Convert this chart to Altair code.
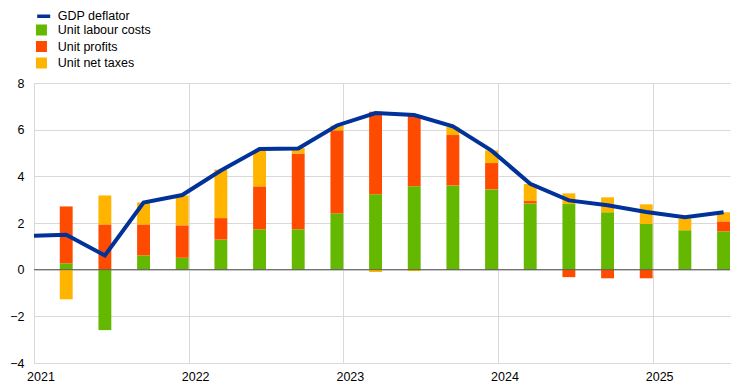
import altair as alt
import pandas as pd

# ---- data ----
line_quarters = ["2020Q4", "2021Q1", "2021Q2", "2021Q3", "2021Q4",
                 "2022Q1", "2022Q2", "2022Q3", "2022Q4",
                 "2023Q1", "2023Q2", "2023Q3", "2023Q4",
                 "2024Q1", "2024Q2", "2024Q3", "2024Q4",
                 "2025Q1", "2025Q2"]
gdp_deflator = [1.44, 1.50, 0.61, 2.88, 3.20,
                4.25, 5.17, 5.19, 6.18,
                6.71, 6.63, 6.14, 5.10,
                3.68, 2.97, 2.76, 2.47,
                2.25, 2.46]

bar_quarters = line_quarters[1:]
unit_labour_costs = [0.27, -2.59, 0.61, 0.51, 1.29, 1.73, 1.73, 2.41, 3.23,
                     3.57, 3.61, 3.44, 2.84, 2.81, 2.46, 1.96, 1.69, 1.64]
unit_profits = [2.44, 1.94, 1.33, 1.39, 0.92, 1.84, 3.25, 3.56, 3.54,
                3.04, 2.16, 1.13, 0.10, -0.32, -0.37, -0.37, 0.00, 0.43]
unit_net_taxes = [-1.27, 1.24, 0.94, 1.28, 2.08, 1.54, 0.23, 0.21, -0.10,
                  -0.06, 0.34, 0.54, 0.73, 0.46, 0.64, 0.84, 0.50, 0.39]

components = ["Unit labour costs", "Unit profits", "Unit net taxes"]
comp_colors = ["#65b800", "#ff4b00", "#ffb400"]
line_name = "GDP deflator"
line_color = "#003299"
year_ticks = [2021, 2022, 2023, 2024, 2025]
y_ticks = [-4, -2, 0, 2, 4, 6, 8]
FONT = "Liberation Sans"


def q_pos(q):
    year, qn = int(q[:4]), int(q[5])
    m = 3 * qn  # last month of the quarter
    return year + (m - 1) / 12, year + m / 12, year + (m - 0.5) / 12


# stacked bar table (positives up, negatives down, in component order)
rows = []
for i, q in enumerate(bar_quarters):
    x0, x1, _ = q_pos(q)
    pos, neg = 0.0, 0.0
    for name, vals in zip(components, [unit_labour_costs, unit_profits, unit_net_taxes]):
        v = vals[i]
        if v >= 0:
            y0, y1 = pos, pos + v
            pos += v
        else:
            y0, y1 = neg, neg + v
            neg += v
        rows.append({"x0": x0, "x1": x1, "y0": y0, "y1": y1, "component": name, "value": v})
bars_df = pd.DataFrame(rows)

line_df = pd.DataFrame({
    "x": [q_pos(q)[2] for q in line_quarters],
    "y": gdp_deflator,
    "series": [line_name] * len(line_quarters),
})

x_scale = alt.Scale(domain=[2021, 2025.5], nice=False, zero=False)
y_scale = alt.Scale(domain=[-4, 8], nice=False)

bars = alt.Chart(bars_df).mark_bar(clip=True).encode(
    x=alt.X("x0:Q", scale=x_scale, title=None,
            axis=alt.Axis(values=year_ticks, format="d", ticks=False, labelOffset=6.5,
                          labelFlush=False, labelPadding=7, grid=True, gridColor="#d9d9d9",
                          domainColor="#d9d9d9")),
    x2="x1:Q",
    y=alt.Y("y0:Q", scale=y_scale, title=None,
            axis=alt.Axis(values=y_ticks, ticks=False, labelPadding=10, grid=True,
                          gridColor="#d9d9d9", domainColor="#d9d9d9")),
    y2="y1:Q",
    fill=alt.Fill("component:N",
                  scale=alt.Scale(domain=components, range=comp_colors),
                  legend=alt.Legend(title=None, orient="none", legendX=1.2, legendY=-59.25,
                                    symbolType="square", symbolSize=121,
                                    symbolStrokeWidth=0, labelOffset=10,
                                    rowPadding=3.5, padding=0)),
)

zero = alt.Chart(pd.DataFrame({"y": [0]})).mark_rule(color="#595959", strokeWidth=1).encode(
    y=alt.Y("y:Q", scale=y_scale)
)

line = alt.Chart(line_df).mark_line(clip=True, strokeWidth=4, strokeJoin="miter").encode(
    x=alt.X("x:Q", scale=x_scale),
    y=alt.Y("y:Q", scale=y_scale),
    stroke=alt.Stroke("series:N", scale=alt.Scale(domain=[line_name], range=[line_color]),
                      legend=alt.Legend(title=None, orient="none", legendX=1.2, legendY=-75.25,
                                        symbolType="stroke", symbolSize=169,
                                        symbolStrokeWidth=3.5, labelOffset=5.5, padding=0)),
)

chart = alt.layer(bars, zero, line).resolve_legend(stroke="independent", fill="independent").properties(
    width=696, height=280,
    autosize=alt.AutoSizeParams(type="none"),
    padding={"left": 26, "top": 75, "right": 6, "bottom": 27},
).configure_view(stroke=None).configure_axis(
    labelFont=FONT, labelFontSize=12.5, labelColor="#000000"
).configure_legend(
    labelFont=FONT, labelFontSize=12.5, labelColor="#000000"
)

chart.save("out.html", embed_options={"renderer": "svg", "actions": False})
